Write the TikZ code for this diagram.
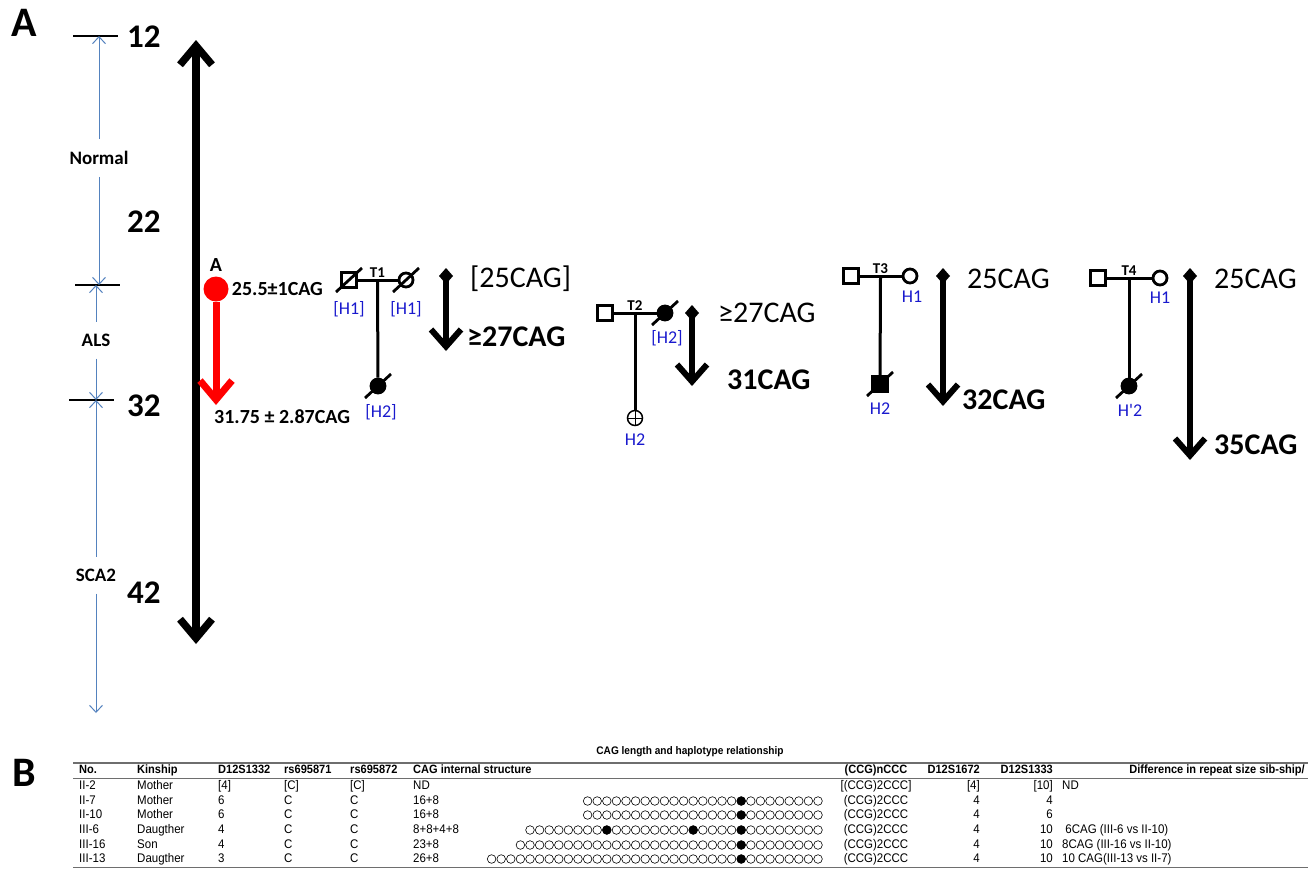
\documentclass[tikz,border=0pt]{standalone}
\usepackage{fontspec}
\setmainfont{Carlito}
\newfontfamily\tablefont[FakeStretch=0.92]{Liberation Sans}
\usetikzlibrary{arrows.meta, positioning, calc}
\definecolor{scaleblue}{RGB}{84,130,190}
\definecolor{hapblue}{RGB}{25,25,205}
\definecolor{rulegray}{RGB}{110,110,110}

\begin{document}
\begin{tikzpicture}[x=1pt, y=-1pt,
    panel/.style={font=\fontsize{42pt}{46pt}\selectfont\bfseries, inner sep=0pt},
    numlabel/.style={font=\fontsize{33pt}{36pt}\selectfont\bfseries, anchor=west, inner sep=0pt},
    zonelabel/.style={font=\fontsize{19pt}{22pt}\selectfont\bfseries, inner xsep=0pt, inner ysep=12pt},
    scalearrow/.style={draw=scaleblue, line width=1pt, -{Straight Barb[length=7pt, width=13pt]}},
    tickline/.style={draw, line width=1.2pt},
    axis/.style={line width=7.5pt, {Straight Barb[length=19pt, width=32pt]}-{Straight Barb[length=19pt, width=32pt]}},
    redarrow/.style={draw=red, line width=7pt, -{Straight Barb[length=19pt, width=32pt]}},
    reddot/.style={circle, fill=red, minimum size=25pt, inner sep=0pt},
    valtext/.style={font=\fontsize{20pt}{24pt}\selectfont\bfseries, inner sep=0pt},
    male/.style={rectangle, draw, line width=2.8pt, minimum size=15pt, inner sep=0pt},
    female/.style={circle, draw, line width=2.8pt, minimum size=14pt, inner sep=0pt},
    affected/.style={fill=black},
    ped/.style={line width=3pt},
    slash/.style={line width=2.8pt},
    tlabel/.style={font=\fontsize{15pt}{18pt}\selectfont\bfseries, inner sep=0pt},
    hap/.style={font=\fontsize{18pt}{21pt}\selectfont, text=hapblue, inner sep=0pt},
    trend/.style={line width=6pt, {Diamond[length=16pt, width=14pt]}-{Straight Barb[length=17pt, width=30pt]}},
    cag/.style={font=\fontsize{30pt}{34pt}\selectfont, anchor=west, inner sep=0pt},
    cagbold/.style={cag, font=\fontsize{30pt}{34pt}\selectfont\bfseries},
    ttitle/.style={font=\tablefont\fontsize{11pt}{12pt}\selectfont\bfseries, inner sep=0pt},
    thead/.style={font=\tablefont\fontsize{12pt}{13pt}\selectfont\bfseries, inner sep=0pt, text height=8.6pt, text depth=2.2pt},
    tcell/.style={font=\tablefont\fontsize{12.5pt}{13pt}\selectfont, inner sep=0pt, text height=9pt, text depth=2.4pt},
    cagdot/.style={draw, line width=0.6pt}
]
\useasboundingbox (0,0) rectangle (1313,868);

% ---------- panel A : repeat scale ----------
\node[panel] (pA) at (24,23) {A};

\node[numlabel] (n12) at (127,37) {12};
\node[numlabel] (n22) at (127,222) {22};
\node[numlabel] (n32) at (127,406) {32};
\node[numlabel] (n42) at (127,593) {42};

\coordinate (t12) at (96,36);
\coordinate (t25) at (97,285);
\coordinate (t32) at (92,400);
\coordinate (tend) at (96,713);
\draw[tickline] (73,36) -- (118,36);
\draw[tickline] (75,285) -- (120,285);
\draw[tickline] (69,400) -- (114,400);

\node[zonelabel] (normal) at (99,158) {Normal};
\node[zonelabel] (als) at (96,340) {ALS};
\node[zonelabel] (sca) at (96,575) {SCA2};

\draw[scalearrow] (normal.north) -- (normal.north |- t12);
\draw[scalearrow] (normal.south) -- (normal.south |- t25);
\draw[scalearrow] (als.north) -- (als.north |- t25);
\draw[scalearrow] (als.south) -- (als.south |- t32);
\draw[scalearrow] (sca.north) -- (sca.north |- t32);
\draw[scalearrow] (sca.south) -- (sca.south |- tend);

% main axis
\coordinate (axtop) at (196,40);
\coordinate (axbot) at (196,644);
\draw[axis] (axbot) -- (axtop);

% mean repeat shift
\node[reddot] (pa) at (216,289) {};
\node[valtext, above=5pt of pa] (palab) {A};
\coordinate (paend) at (216,405);
\draw[redarrow] (pa.south) -- (paend);
\node[valtext, right=3pt of pa] (pamin) {25.5±1CAG};
\node[valtext, anchor=west] (pamax) at (214,417) {31.75 ± 2.87CAG};

% ---------- T1 ----------
\node[male] (t1f) at (349,280) {};
\node[female] (t1m) at (406,280) {};
\draw[ped] (t1f) -- (t1m);
\coordinate (t1j) at ($(t1f)!0.5!(t1m)$);
\node[female, affected] (t1c) at (378,386) {};
\draw[ped] (t1j) -- (t1c);
\node[tlabel, above=2pt of t1j] (t1) {T1};
\node[hap] (t1fh) at (349,309) {[H1]};
\node[hap] (t1mh) at (406,309) {[H1]};
\node[hap] (t1ch) at (381,412) {[H2]};
\coordinate (a1s) at (446,268);
\coordinate (a1e) at (446,351);
\draw[trend] (a1s) -- (a1e);
\node[cag] (c1a) at (470,279) {[25CAG]};
\node[cagbold] (c1b) at (467,337) {≥27CAG};

% ---------- T2 ----------
\node[male] (t2f) at (605,313) {};
\node[female, affected] (t2m) at (665,313) {};
\draw[ped] (t2f) -- (t2m);
\coordinate (t2j) at ($(t2f)!0.5!(t2m)$);
\node[female, line width=1.5pt, minimum size=15pt, path picture={
    \draw[line width=1pt] (path picture bounding box.north) -- (path picture bounding box.south)
      (path picture bounding box.west) -- (path picture bounding box.east);}] (t2c) at (635,418) {};
\draw[ped] (t2j) -- (t2c);
\node[tlabel, above=2pt of t2j] (t2) {T2};
\node[hap] (t2mh) at (667,338) {[H2]};
\node[hap] (t2ch) at (635,440) {H2};
\coordinate (a2s) at (692,305);
\coordinate (a2e) at (692,386);
\draw[trend] (a2s) -- (a2e);
\node[cag] (c2a) at (718,313) {≥27CAG};
\node[cagbold] (c2b) at (727,380) {31CAG};

% ---------- T3 ----------
\node[male] (t3f) at (851,276) {};
\node[female] (t3m) at (910,276) {};
\draw[ped] (t3f) -- (t3m);
\coordinate (t3j) at ($(t3f)!0.5!(t3m)$);
\node[male, affected] (t3c) at (880,384) {};
\draw[ped] (t3j) -- (t3c);
\node[tlabel, above=2pt of t3j] (t3) {T3};
\node[hap] (t3mh) at (912,297) {H1};
\node[hap] (t3ch) at (880,409) {H2};
\coordinate (a3s) at (943,268);
\coordinate (a3e) at (943,406);
\draw[trend] (a3s) -- (a3e);
\node[cag] (c3a) at (967,279) {25CAG};
\node[cagbold] (c3b) at (962,400) {32CAG};

% ---------- T4 ----------
\node[male] (t4f) at (1098,278) {};
\node[female] (t4m) at (1160,278) {};
\draw[ped] (t4f) -- (t4m);
\coordinate (t4j) at ($(t4f)!0.5!(t4m)$);
\node[female, affected] (t4c) at (1129,386) {};
\draw[ped] (t4j) -- (t4c);
\node[tlabel, above=2pt of t4j] (t4) {T4};
\node[hap] (t4mh) at (1160,298) {H1};
\node[hap] (t4ch) at (1130,410) {H\textquotesingle 2};
\coordinate (a4s) at (1190,268);
\coordinate (a4e) at (1190,460);
\draw[trend] (a4s) -- (a4e);
\node[cag] (c4a) at (1214,279) {25CAG};
\node[cagbold] (c4b) at (1214,445) {35CAG};

% deceased marks
\foreach \n in {t1f, t1m, t1c, t2m, t3c, t4c}
  \draw[slash] ([shift={(-13,12)}]\n.center) -- ([shift={(13,-12)}]\n.center);

% ---------- panel B : table ----------
\node[panel] (pB) at (24,773) {B};
\node[ttitle] (ttl) at (690,752) {CAG length and haplotype relationship};

\draw[rulegray, line width=2pt] (73,763) -- (1308,763);
\draw[rulegray, line width=0.8pt] (73,778) -- (1308,778);
\draw[rulegray, line width=1pt] (73,867) -- (1308,867);

\node[thead, anchor=west] (hno) at (79,770) {No.};
\node[thead, anchor=west] (hkin) at (137,770) {Kinship};
\node[thead, anchor=west] (hda) at (218,770) {D12S1332};
\node[thead, anchor=west] (hra) at (284,770) {rs695871};
\node[thead, anchor=west] (hrb) at (350,770) {rs695872};
\node[thead, anchor=west] (hcag) at (413,770) {CAG internal structure};
\node[thead] (hccg) at (876,770) {(CCG)nCCC};
\node[thead, anchor=east] (hdb) at (980,770) {D12S1672};
\node[thead, anchor=east] (hdc) at (1053,770) {D12S1333};
\node[thead, anchor=east] (hdif) at (1305,770) {Difference in repeat size sib-ship/};

\foreach \y/\no/\kin/\da/\ra/\rb/\cg/\ccg/\db/\dc/\dif in {
    786/II-2/Mother/[4]/[C]/[C]/ND/[(CCG)2CCC]/[4]/[10]/ND,
    801/II-7/Mother/6/C/C/16+8/(CCG)2CCC/4/4/{},
    815/II-10/Mother/6/C/C/16+8/(CCG)2CCC/4/6/{},
    830/III-6/Daugther/4/C/C/8+8+4+8/(CCG)2CCC/4/10/{\ 6CAG (III-6 vs II-10)},
    845/III-16/Son/4/C/C/23+8/(CCG)2CCC/4/10/{8CAG (III-16 vs II-10)},
    859/III-13/Daugther/3/C/C/26+8/(CCG)2CCC/4/10/{10 CAG(III-13 vs II-7)}}{
  \node[tcell, anchor=west] (no\y) at (79,\y) {\no};
  \node[tcell, anchor=west] (kin\y) at (137,\y) {\kin};
  \node[tcell, anchor=west] (da\y) at (218,\y) {\da};
  \node[tcell, anchor=west] (ra\y) at (284,\y) {\ra};
  \node[tcell, anchor=west] (rb\y) at (350,\y) {\rb};
  \node[tcell, anchor=west] (cg\y) at (413,\y) {\cg};
  \node[tcell] (ccg\y) at (876,\y) {\ccg};
  \node[tcell, anchor=east] (db\y) at (980,\y) {\db};
  \node[tcell, anchor=east] (dc\y) at (1053,\y) {\dc};
  \node[tcell, anchor=west] (dif\y) at (1062,\y) {\dif};
}

% CAG / CAA interruption pattern
\foreach \y/\n/\f in {801/25/{9}, 815/25/{9}, 830/31/{9,14,23}, 845/32/{9}, 859/35/{9}}{
  \foreach \i in {1,...,\n}
    \draw[cagdot] ({818-9.6*(\i-1)},\y) circle (4.3pt);
  \foreach \j in \f
    \fill ({818-9.6*(\j-1)},\y) circle (4.6pt);
}
\end{tikzpicture}
\end{document}
